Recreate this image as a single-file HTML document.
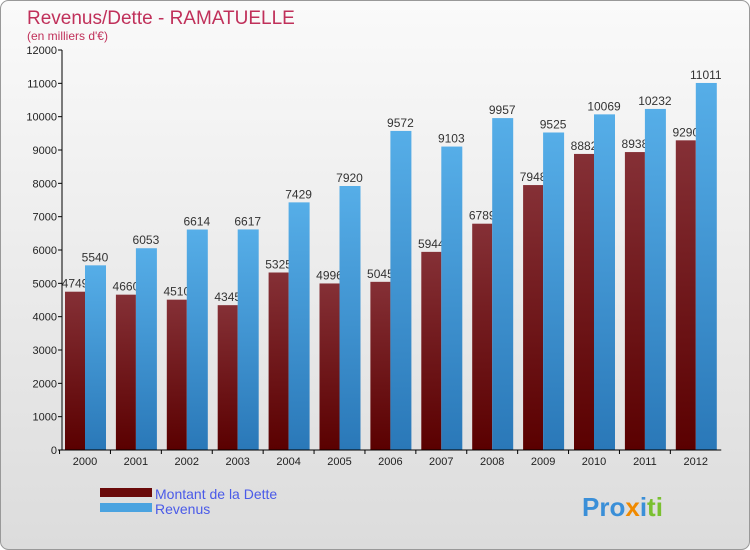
<!DOCTYPE html>
<html><head><meta charset="utf-8"><style>
body{margin:0;background:#fff}
svg{display:block;font-family:"Liberation Sans",sans-serif}
</style></head><body>
<svg id="c" width="750" height="550" viewBox="0 0 750 550">
<defs>
<linearGradient id="bg" x1="0" y1="0" x2="0" y2="1"><stop offset="0" stop-color="#fafafa"/><stop offset="1" stop-color="#dcdcdc"/></linearGradient>
<linearGradient id="gd" x1="0" y1="0" x2="0" y2="1"><stop offset="0" stop-color="#853036"/><stop offset="1" stop-color="#5a0000"/></linearGradient>
<linearGradient id="gr" x1="0" y1="0" x2="0" y2="1"><stop offset="0" stop-color="#56aee8"/><stop offset="1" stop-color="#2a78b8"/></linearGradient>
</defs>
<rect x="0.5" y="0.5" width="749" height="549" rx="8" fill="url(#bg)" stroke="#999"/>
<text x="27" y="24" font-size="19" fill="#c0305a">Revenus/Dette - RAMATUELLE</text>
<text x="27" y="40" font-size="12" fill="#c0305a">(en milliers d'€)</text>
<g id="plot"></g>
<rect x="100" y="488" width="52" height="9" fill="#6a0a0a"/>
<text x="155" y="499" font-size="14" fill="#4a5ae8">Montant de la Dette</text>
<rect x="100" y="503" width="52" height="9" fill="#4aa3e0"/>
<text x="155" y="514" font-size="14" fill="#4a5ae8">Revenus</text>
<text x="582" y="516" font-size="26" font-weight="bold"><tspan fill="#3a8fd8">Pro</tspan><tspan fill="#f08a00">x</tspan><tspan fill="#3a8fd8">i</tspan><tspan fill="#7ac030">ti</tspan></text>
</svg>
<script>
const years=["2000","2001","2002","2003","2004","2005","2006","2007","2008","2009","2010","2011","2012"];
const dette=[4749,4660,4510,4345,5325,4996,5045,5944,6789,7948,8882,8938,9290];
const revenus=[5540,6053,6614,6617,7429,7920,9572,9103,9957,9525,10069,10232,11011];
const ticks=[0,1000,2000,3000,4000,5000,6000,7000,8000,9000,10000,11000,12000];
const NS="http://www.w3.org/2000/svg";
const g=document.getElementById('plot');
const x0=62,step=50.9,first=85,y0=450,ymax=12000,h=400;
const yS=v=>y0-v/ymax*h;
const xC=i=>first+step*i;
function mk(t,a){const e=document.createElementNS(NS,t);for(const k in a)e.setAttribute(k,a[k]);g.appendChild(e);return e;}
ticks.forEach(t=>{
 const l=mk('line',{x1:x0-4,x2:x0,y1:yS(t),y2:yS(t),stroke:'#000'});
 
 
 const tx=mk('text',{x:x0-5,y:yS(t)+4,'font-size':11,'text-anchor':'end',fill:'#222'});
 tx.textContent=t;
 
 
});
years.forEach((yr,i)=>{
 const c=xC(i);
 const bd=mk('rect',{x:c-20,y:yS(dette[i]),width:20,height:y0-yS(dette[i]),fill:'url(#gd)'});
 
 
 const ld=mk('text',{x:c-10,y:yS(dette[i])-4,'font-size':12,'text-anchor':'middle',fill:'#333'});
 ld.textContent=dette[i];
 
 
 const br=mk('rect',{x:c,y:yS(revenus[i]),width:21,height:y0-yS(revenus[i]),fill:'url(#gr)'});
 
 
 const lr=mk('text',{x:c+10,y:yS(revenus[i])-4,'font-size':12,'text-anchor':'middle',fill:'#333'});
 lr.textContent=revenus[i];
 
 
 const tk=mk('line',{x1:c-step/2,x2:c-step/2,y1:y0,y2:y0+4,stroke:'#000'});
 
 
 const xl=mk('text',{x:c,y:y0+15,'font-size':11,'text-anchor':'middle',fill:'#222'});
 xl.textContent=yr;
 
 
});
const ya=mk('line',{x1:x0,x2:x0,y1:yS(12000),y2:y0,stroke:'#000'});


const xa=mk('line',{x1:x0,x2:xC(12)+step/2,y1:y0,y2:y0,stroke:'#000'});


</script>
</body></html>
